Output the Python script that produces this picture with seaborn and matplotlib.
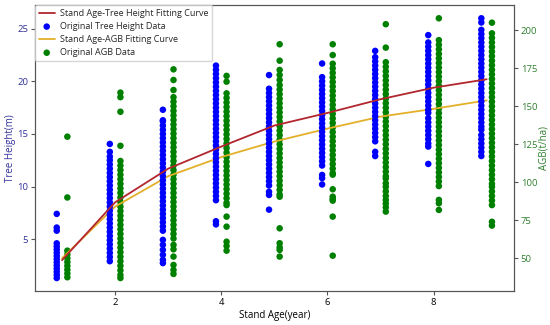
import matplotlib
matplotlib.use("Agg")
import matplotlib.pyplot as plt
import seaborn as sns
import pandas as pd

# ---------------- data ----------------
ages = [1, 2, 3, 4, 5, 6, 7, 8, 9]

# Tree height observations (m) per stand age
height_age1 = [7.4, 6.1, 5.8, 4.6, 4.3, 4.0, 3.7, 3.4, 3.1, 2.8, 2.5, 2.2, 1.9, 1.6, 1.3]
height_age2 = [14.05, 13.3, 12.85, 12.5, 12.1, 11.7, 11.3, 10.9, 10.5, 10.1, 9.7, 9.3, 8.9, 8.5,
               8.1, 7.7, 7.3, 6.9, 6.5, 6.1, 5.7, 5.3, 4.9, 4.5, 4.1, 3.7, 3.3, 2.9]
height_age3 = [17.3, 16.3, 16.2, 15.8, 15.4, 15.0, 14.6, 14.2, 13.8, 13.4, 13.0, 12.6, 12.2, 11.8,
               11.4, 11.0, 10.6, 10.2, 9.8, 9.4, 9.0, 8.6, 8.2, 7.8, 7.4, 7.0, 6.6, 6.2, 5.8,
               4.93, 4.46, 3.98, 3.51, 3.03, 2.72]
height_age4 = [21.5, 21.1, 20.7, 20.3, 19.9, 19.5, 19.1, 18.7, 18.3, 17.9, 17.5, 17.1, 16.7, 16.3,
               15.9, 15.5, 15.1, 14.7, 14.3, 13.9, 13.5, 13.1, 12.7, 12.3, 11.9, 11.5, 11.1, 10.7,
               10.3, 9.9, 9.5, 9.1, 8.7, 6.7, 6.4]
height_age5 = [20.6, 19.3, 18.9, 18.5, 18.1, 17.7, 17.3, 16.9, 16.5, 16.1, 15.7, 15.3, 14.9, 14.5,
               14.1, 13.7, 13.3, 12.9, 12.5, 12.1, 11.7, 11.3, 10.9, 10.5, 10.1, 9.5, 9.2, 7.8]
height_age6 = [21.7, 20.4, 20.0, 19.6, 19.2, 18.8, 18.4, 18.0, 17.6, 17.2, 16.8, 16.4, 16.0, 15.6,
               15.2, 14.8, 14.4, 14.0, 13.6, 13.2, 12.8, 12.4, 12.0, 11.1, 10.8, 10.2]
height_age7 = [22.9, 22.3, 21.9, 21.5, 21.1, 20.7, 20.3, 19.9, 19.5, 19.1, 18.7, 18.3, 17.9, 17.5,
               17.1, 16.7, 16.3, 15.9, 15.5, 15.1, 14.7, 14.3, 13.3, 12.9]
height_age8 = [24.4, 23.7, 23.3, 22.9, 22.5, 22.1, 21.7, 21.3, 20.9, 20.5, 20.1, 19.7, 19.3, 18.9,
               18.5, 18.1, 17.7, 17.3, 17.0, 16.5, 16.1, 15.7, 15.3, 14.9, 14.5, 14.1, 13.8, 12.15]
height_age9 = [26.0, 25.6, 24.9, 24.5, 24.1, 23.7, 23.3, 22.9, 22.5, 22.1, 21.7, 21.3, 20.9, 20.5,
               20.1, 19.7, 19.3, 18.9, 18.5, 18.1, 17.7, 17.3, 16.9, 16.5, 16.1, 15.7, 15.4, 14.9,
               14.5, 14.1, 13.7, 13.3, 12.9]

# AGB observations (t/ha) per stand age
agb_age1 = [130, 90, 55, 52.5, 50, 47.5, 45, 42.5, 40, 37.5]
agb_age2 = [159, 156, 146.4, 124, 114, 111, 108, 105, 102, 99, 96, 93, 90, 87, 84, 81, 78, 75, 72,
            69, 66, 63, 60, 57, 54, 51, 48, 45, 42, 39, 37]
agb_age3 = [174.3, 167.3, 160.7, 156, 153, 150, 147, 144, 141, 138, 135, 132, 129, 126, 123, 120,
            117, 114, 111, 108, 105, 102, 99, 96, 93, 90, 87, 84, 81, 78, 75, 72, 69, 66, 63,
            58.8, 55.9, 51.1, 45.6, 42.3, 39.7]
agb_age4 = [170, 166.2, 158.5, 155.5, 152.5, 149.5, 146.5, 143.5, 140.5, 137.5, 134.5, 131.5,
            128.5, 125.5, 122.5, 119.5, 116.5, 113.5, 110.5, 107.5, 104.5, 101.5, 98.5, 95.5,
            92.5, 89.5, 86.5, 85, 77.4, 70.8, 60.9, 58.1, 55]
agb_age5 = [190.8, 180, 173.9, 170.6, 167.3, 164, 161, 158, 155, 152, 149, 146, 143, 140, 137,
            134, 131, 128, 125, 122, 119, 116, 113, 110, 107, 104, 101, 98, 95, 92, 90.5, 69.7,
            59.9, 57.2, 55.5, 51.1]
agb_age6 = [190.8, 183.7, 178, 175, 172, 169, 166, 163, 160, 157, 154, 151, 148, 145, 142, 139,
            136, 133, 130, 127, 124, 121, 118, 115, 112, 109, 106, 105, 95.4, 90.5, 89, 87.9,
            77.4, 51.7]
agb_age7 = [204, 188.6, 179, 176, 173, 170, 167, 164, 161, 158, 155, 152, 149, 146, 143, 140, 137,
            134, 131, 128, 125, 122, 119, 116, 113, 110, 107, 104, 102.5, 99.3, 97, 94, 91, 88.4,
            86, 83.5, 80.7]
agb_age8 = [207.9, 193.5, 190.5, 187.5, 184.5, 181.5, 178.5, 175.5, 172.5, 169.5, 166.5, 163.5,
            160.5, 157.5, 154.5, 151.5, 148.5, 145.5, 142.5, 139.5, 136.5, 133.5, 130.5, 127.5,
            124.5, 121.5, 118.5, 115.5, 112.5, 109.5, 106.5, 103.5, 100.5, 97.5, 88.4, 86.2, 81.8]
agb_age9 = [205, 198, 195, 192, 189, 186, 183, 180, 177, 174, 171, 168, 165, 162, 159, 156, 153,
            150, 147, 144, 141, 138, 135, 132, 129, 126, 123, 120, 117, 114, 111, 108, 105, 102,
            99, 97, 94, 91, 88, 85, 74, 71.5]

# Fitted curves at each stand age
height_fit = [3.0, 8.5, 11.7, 13.8, 15.8, 17.0, 18.3, 19.4, 20.2]
agb_fit = [50.0, 84.0, 104.0, 116.6, 126.8, 135.3, 143.2, 148.3, 153.9]

height_obs = [height_age1, height_age2, height_age3, height_age4, height_age5,
              height_age6, height_age7, height_age8, height_age9]
agb_obs = [agb_age1, agb_age2, agb_age3, agb_age4, agb_age5,
           agb_age6, agb_age7, agb_age8, agb_age9]

# ---------------- tables ----------------
h_rows = [(a - 0.1, v) for a, vals in zip(ages, height_obs) for v in vals]
g_rows = [(a + 0.1, v) for a, vals in zip(ages, agb_obs) for v in vals]
df_h = pd.DataFrame(h_rows, columns=["age", "height"])
df_g = pd.DataFrame(g_rows, columns=["age", "agb"])
df_fit = pd.DataFrame({"age": ages, "height": height_fit, "agb": agb_fit})

# ---------------- style ----------------
sns.set_style("ticks")
plt.rcParams["font.family"] = ["Open Sans", "DejaVu Sans"]
plt.rcParams["axes.edgecolor"] = "#555555"
plt.rcParams["xtick.color"] = "#555555"
plt.rcParams["ytick.color"] = "#555555"

BLUE_TXT = "#30309a"
GREEN_TXT = "#2f7f2f"

fig = plt.figure(figsize=(5.5, 3.25), dpi=100)
ax1 = fig.add_axes([0.0636, 0.1046, 0.8704, 0.8791])
ax2 = ax1.twinx()

# AGB (right axis)
sns.scatterplot(data=df_g, x="age", y="agb", ax=ax2, color="green", s=22,
                linewidth=0, edgecolor="none", label="Original AGB Data", legend=False)
sns.lineplot(data=df_fit, x="age", y="agb", ax=ax2, color="#e3b02a", linewidth=1.3,
             label="Stand Age-AGB Fitting Curve", legend=False)

# Height (left axis) drawn above
ax1.set_zorder(ax2.get_zorder() + 1)
ax1.patch.set_visible(False)
sns.scatterplot(data=df_h, x="age", y="height", ax=ax1, color="blue", s=22,
                linewidth=0, edgecolor="none", label="Original Tree Height Data", legend=False)
sns.lineplot(data=df_fit, x="age", y="height", ax=ax1, color="#b2262e", linewidth=1.3,
             label="Stand Age-Tree Height Fitting Curve", legend=False)

ax1.set_xlabel("Stand Age(year)", fontsize=7, color="black", labelpad=2)
ax1.set_ylabel("Tree Height(m)", fontsize=7, color=BLUE_TXT, labelpad=1)
ax2.set_ylabel("AGB(t/ha)", fontsize=7, color=GREEN_TXT, labelpad=1)
ax1.set_xticks([2, 4, 6, 8])
ax1.tick_params(axis="x", labelsize=6.8, labelcolor="black", length=3, pad=2)
ax1.tick_params(axis="y", labelsize=6.8, labelcolor=BLUE_TXT, length=3, pad=2)
ax2.tick_params(axis="y", labelsize=6.8, labelcolor=GREEN_TXT, length=3, pad=2)
for sp in ax1.spines.values():
    sp.set_color("#555555")
for sp in ax2.spines.values():
    sp.set_color("#555555")

# combined legend in the order of the reference
h1, l1 = ax1.get_legend_handles_labels()
h2, l2 = ax2.get_legend_handles_labels()
hd = dict(zip(l1 + l2, h1 + h2))
order = ["Stand Age-Tree Height Fitting Curve", "Original Tree Height Data",
         "Stand Age-AGB Fitting Curve", "Original AGB Data"]
ax1.legend([hd[k] for k in order], order, loc="upper left", fontsize=6.5,
           frameon=True, borderaxespad=0.0, handlelength=1.8, handletextpad=0.6,
           labelspacing=0.45)

fig.savefig("out.png", dpi=100)
